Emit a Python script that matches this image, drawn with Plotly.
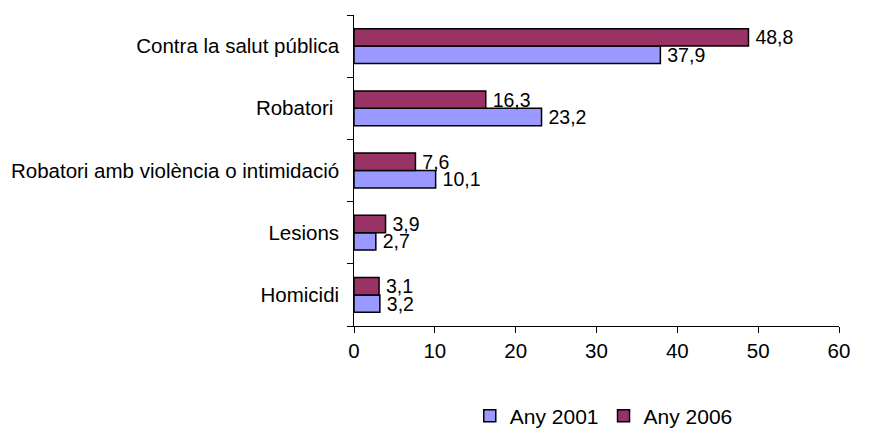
import plotly.graph_objects as go

categories = ["Homicidi", "Lesions", "Robatori amb violència o intimidació", "Robatori ", "Contra la salut pública"]
any_2001 = [3.2, 2.7, 10.1, 23.2, 37.9]
any_2006 = [3.1, 3.9, 7.6, 16.3, 48.8]

FS = 20.5
LABEL_FS = 19.5

fig = go.Figure()
fig.add_trace(go.Bar(
    y=categories, x=any_2001, orientation="h", name="Any 2001",
    marker=dict(color="#9999FF", line=dict(color="#000000", width=1.5)),
    texttemplate="\u2009%{x:.1f}", textposition="outside", cliponaxis=False,
    constraintext="none",
    textfont=dict(size=LABEL_FS, color="#000000"),
))
fig.add_trace(go.Bar(
    y=categories, x=any_2006, orientation="h", name="Any 2006",
    marker=dict(color="#993366", line=dict(color="#000000", width=1.5)),
    texttemplate="\u2009%{x:.1f}", textposition="outside", cliponaxis=False,
    constraintext="none",
    textfont=dict(size=LABEL_FS, color="#000000"),
))

fig.update_layout(
    width=869, height=428,
    margin=dict(l=354, r=30, t=15, b=102, autoexpand=False),
    paper_bgcolor="white", plot_bgcolor="white",
    font=dict(family="Liberation Sans, Arial, sans-serif", size=FS, color="#000000"),
    separators=",.",
    barmode="group", bargap=0.44, bargroupgap=0,
    showlegend=True,
    legend=dict(orientation="h", x=0.515, xanchor="center", y=-0.29, yanchor="middle",
                font=dict(size=21), itemwidth=30, tracegroupgap=0),
)
fig.update_xaxes(range=[0, 60], dtick=10, showgrid=False, zeroline=False,
                 showline=True, linecolor="#000000", linewidth=1, automargin=False,
                 ticks="outside", ticklen=6, tickcolor="#000000", tickformat="d")
fig.update_yaxes(showgrid=False, showline=True, linecolor="#000000", linewidth=1,
                 automargin=False,
                 ticks="outside", ticklen=6, tickcolor="#000000", tickson="boundaries",
                 ticksuffix=" \u2009")

fig.write_html("out.html", config={"displayModeBar": False},
               post_script="document.body.style.margin='0';document.body.style.overflow='hidden';")
